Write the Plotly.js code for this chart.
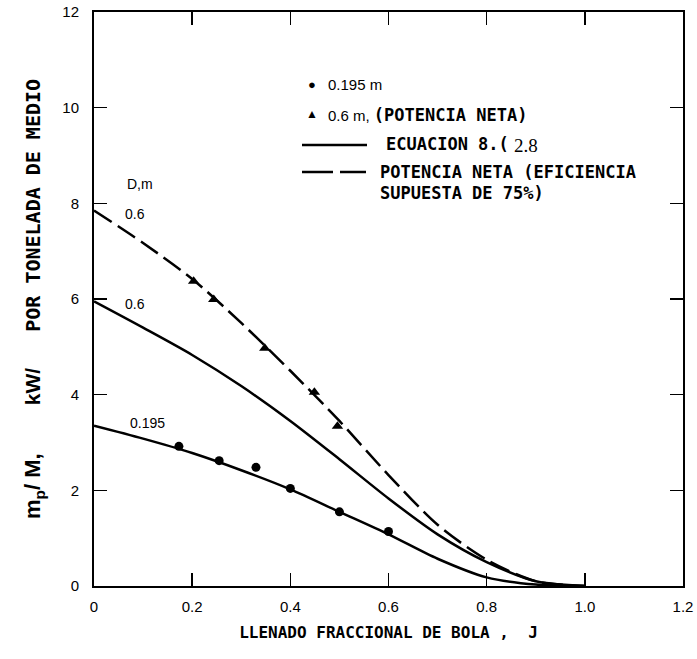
<!DOCTYPE html>
<html>
<head>
<meta charset="utf-8">
<script src="https://cdn.plot.ly/plotly-3.0.1.min.js"></script>
<style>html,body{margin:0;padding:0;background:#fff;}</style>
</head>
<body>
<div id="chart" style="width:697px;height:659px;"></div>
<script>
// Curve abscissa: fractional ball filling J
const J = [0, 0.1, 0.2, 0.3, 0.4, 0.5, 0.6, 0.7, 0.8, 0.9, 1.0];
// Equation 8.(2.8) for D = 0.195 m
const eq0195 = [3.35, 3.08, 2.78, 2.42, 2.02, 1.55, 1.08, 0.57, 0.18, 0.03, 0];
// Equation 8.(2.8) for D = 0.6 m
const eq06 = [5.95, 5.40, 4.83, 4.18, 3.45, 2.65, 1.83, 1.08, 0.50, 0.10, 0];
// Net power (assumed efficiency 75%) for D = 0.6 m
const net06 = [7.85, 7.17, 6.42, 5.50, 4.50, 3.45, 2.32, 1.28, 0.55, 0.10, 0];

// Measured points, 0.195 m (circles)
const J_0195 = [0.173, 0.255, 0.33, 0.40, 0.50, 0.60];
const P_0195 = [2.92, 2.62, 2.48, 2.04, 1.55, 1.14];
// Measured points, 0.6 m net power (triangles)
const J_06 = [0.203, 0.244, 0.348, 0.449, 0.496];
const P_06 = [6.37, 5.99, 4.97, 4.05, 3.34];

const xTicks = [0, 0.2, 0.4, 0.6, 0.8, 1.0, 1.2];
const xTickText = ['0', '0.2', '0.4', '0.6', '0.8', '1.0', '1.2'];
const yTicks = [0, 2, 4, 6, 8, 10, 12];
const yTickText = ['0', '2', '4', '6', '8', '10', '12'];

const MONO = 'DejaVu Sans Mono';
const SANS = 'Liberation Sans';

const traces = [
  {x: J, y: eq0195, mode: 'lines', line: {color: '#000', width: 2.5, shape: 'spline', smoothing: 0.8}, name: 'ECUACION 8.(2.8) 0.195'},
  {x: J, y: eq06, mode: 'lines', line: {color: '#000', width: 2.5, shape: 'spline', smoothing: 0.8}, name: 'ECUACION 8.(2.8) 0.6'},
  {x: J, y: net06, mode: 'lines', line: {color: '#000', width: 2.5, shape: 'spline', smoothing: 0.8, dash: '21px,7px'}, name: 'POTENCIA NETA'},
  {x: J_0195, y: P_0195, mode: 'markers', marker: {symbol: 'circle', size: 9, color: '#000'}, name: '0.195 m'},
  {x: J_06, y: P_06, mode: 'markers', marker: {symbol: 'triangle-up', size: 10, color: '#000'}, name: '0.6 m, (POTENCIA NETA)'}
];

function px2paperX(px) { return (px - 94) / 589; }
function px2paperY(py) { return (586 - py) / 574; }

const ann = [];
function pa(text, px, py, opts) {
  ann.push(Object.assign({xref: 'paper', yref: 'paper', x: px2paperX(px), y: px2paperY(py),
    text: text, showarrow: false, xanchor: 'left', yanchor: 'middle',
    font: {family: SANS, size: 14, color: '#000'}}, opts || {}));
}
// legend-like key
pa('●', 312, 85, {xanchor: 'center', font: {family: SANS, size: 13, color: '#000'}});
pa('0.195 m', 326, 85, {font: {family: SANS, size: 15, color: '#000'}});
pa('▲', 312, 114, {xanchor: 'center', font: {family: SANS, size: 12, color: '#000'}});
pa('0.6 m, <span style="font-family:DejaVu Sans Mono;font-weight:bold;font-size:17px">(POTENCIA NETA)</span>', 326, 115, {font: {family: SANS, size: 15, color: '#000'}});
pa('ECUACION 8.(', 384, 144, {font: {family: MONO, size: 17, color: '#000', weight: 'bold'}});
pa('2.8', 512, 146, {font: {family: 'Liberation Serif', size: 19, color: '#000'}});
pa('POTENCIA NETA (EFICIENCIA', 378, 172, {font: {family: MONO, size: 17, color: '#000', weight: 'bold'}});
pa('SUPUESTA DE 75%)', 378, 193, {font: {family: MONO, size: 17, color: '#000', weight: 'bold'}});

// curve labels (data coordinates)
function da(text, x, y) {
  ann.push({xref: 'x', yref: 'y', x: x, y: y, text: text, showarrow: false,
    xanchor: 'center', yanchor: 'middle', font: {family: SANS, size: 14, color: '#000'}});
}
da('D,m', 0.094, 8.40);
da('0.6', 0.084, 7.77);
da('0.6', 0.084, 5.90);
da('0.195', 0.110, 3.40);

const shapes = [
  {type: 'line', xref: 'paper', yref: 'paper', x0: px2paperX(302), x1: px2paperX(367), y0: px2paperY(145), y1: px2paperY(145), line: {color: '#000', width: 2.5}},
  {type: 'line', xref: 'paper', yref: 'paper', x0: px2paperX(302), x1: px2paperX(366), y0: px2paperY(172), y1: px2paperY(172), line: {color: '#000', width: 2.5, dash: '31px,7px'}}
];

const NB = '\u00A0';
const yTitle = '<span style="font-family:Liberation Sans;font-size:22px">m<sub>p</sub>/' + NB + 'M,</span>' + NB + NB + NB + NB +
  '<span style="font-family:Liberation Sans;font-size:21px">kW/</span>' + NB + NB + NB + 'POR TONELADA DE MEDIO';

const layout = {
  width: 697, height: 659,
  margin: {l: 94, r: 14, t: 12, b: 73},
  paper_bgcolor: '#fff', plot_bgcolor: '#fff',
  showlegend: false,
  xaxis: {
    range: [0, 1.2], tickmode: 'array', tickvals: xTicks, ticktext: xTickText,
    ticks: 'inside', ticklen: 13, tickwidth: 1.5, tickcolor: '#000',
    showline: true, linecolor: '#000', linewidth: 2, mirror: 'ticks',
    showgrid: false, zeroline: false, ticklabelstandoff: 6,
    tickfont: {family: SANS, size: 15, color: '#000'},
    title: {text: 'LLENADO FRACCIONAL DE BOLA ,' + NB + NB + 'J', standoff: 13,
      font: {family: MONO, size: 16, color: '#000', weight: 'bold'}}
  },
  yaxis: {
    range: [0, 12], tickmode: 'array', tickvals: yTicks, ticktext: yTickText,
    ticks: 'inside', ticklen: 13, tickwidth: 1.5, tickcolor: '#000',
    showline: true, linecolor: '#000', linewidth: 2, mirror: 'ticks',
    showgrid: false, zeroline: false, ticklabelstandoff: 10,
    tickfont: {family: SANS, size: 15, color: '#000'},
    title: {text: yTitle, standoff: 16,
      font: {family: MONO, size: 20, color: '#000', weight: 'bold'}}
  },
  annotations: ann,
  shapes: shapes
};

Plotly.newPlot('chart', traces, layout, {displayModeBar: false, staticPlot: true});
</script>
</body>
</html>
